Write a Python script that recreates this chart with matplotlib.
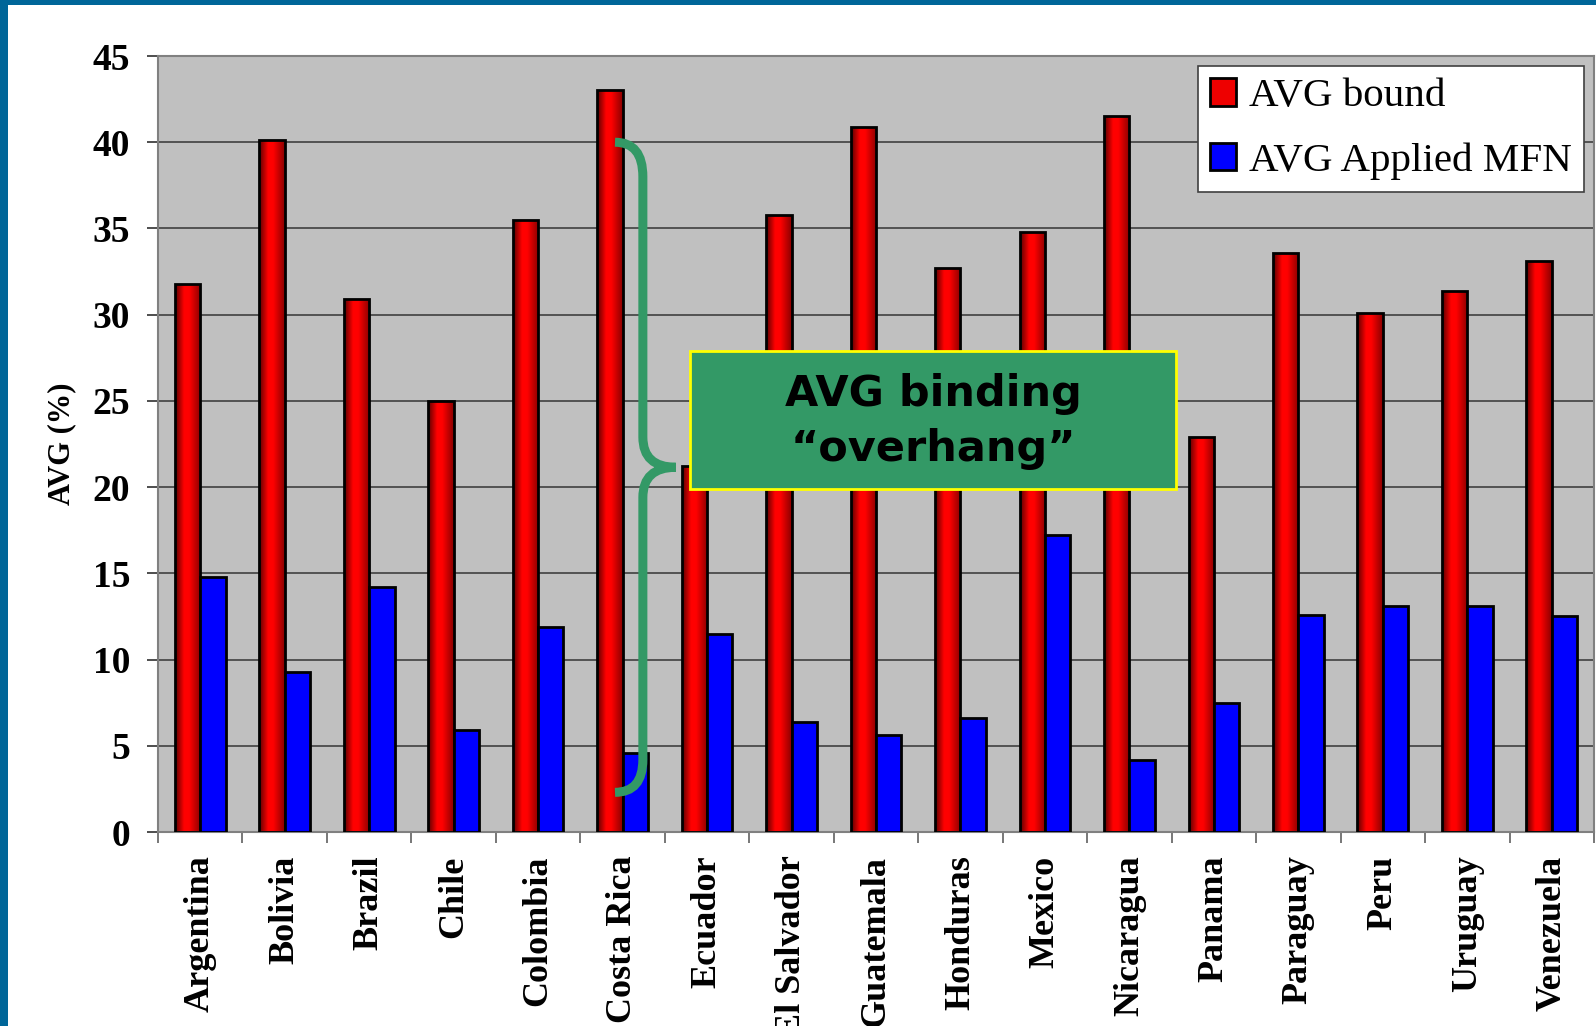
import numpy as np
import matplotlib
matplotlib.use("Agg")
import matplotlib.pyplot as plt
from matplotlib.colors import LinearSegmentedColormap
from matplotlib.patches import Rectangle, Patch
from matplotlib.path import Path
from matplotlib.patches import PathPatch

countries = ["Argentina", "Bolivia", "Brazil", "Chile", "Colombia", "Costa Rica",
             "Ecuador", "El Salvador", "Guatemala", "Honduras", "Mexico",
             "Nicaragua", "Panama", "Paraguay", "Peru", "Uruguay", "Venezuela"]
avg_bound = [31.8, 40.1, 30.9, 25.0, 35.5, 43.0, 21.2, 35.8, 40.9, 32.7,
             34.8, 41.5, 22.9, 33.6, 30.1, 31.4, 33.1]
avg_applied = [14.8, 9.3, 14.2, 5.9, 11.9, 4.6, 11.5, 6.4, 5.6, 6.6,
               17.2, 4.2, 7.5, 12.6, 13.1, 13.1, 12.5]
y_ticks = [0, 5, 10, 15, 20, 25, 30, 35, 40, 45]

serif = "Liberation Serif"
green = "#339966"

fig = plt.figure(figsize=(15.96, 10.26), dpi=100)
fig.patch.set_facecolor("white")

# blue slide frame
fig.add_artist(Rectangle((0, 0), 8 / 1596, 1, transform=fig.transFigure,
                         facecolor="#006699", edgecolor="none"))
fig.add_artist(Rectangle((0, 1 - 5 / 1026), 1, 5 / 1026, transform=fig.transFigure,
                         facecolor="#006699", edgecolor="none"))

ax = fig.add_axes([158 / 1596, 1 - 832 / 1026, (1594 - 158) / 1596, (832 - 56) / 1026])
ax.set_facecolor("#C0C0C0")
ax.set_axisbelow(True)

x = np.arange(len(countries))
w = 0.3
red_bars = ax.bar(x - w / 2, avg_bound, w, facecolor="none", edgecolor="black",
                  linewidth=2, zorder=3)
ax.bar(x + w / 2, avg_applied, w, facecolor="#0000FF", edgecolor="black",
       linewidth=2, zorder=3)

# cylinder-like shading on the red bars
cmap = LinearSegmentedColormap.from_list(
    "redshade", [(0, "#5a0000"), (0.35, "#ff0000"), (0.55, "#ff0000"), (1, "#8a0000")])
grad = np.linspace(0, 1, 64).reshape(1, -1)
for b in red_bars:
    im = ax.imshow(grad, cmap=cmap, aspect="auto", zorder=2.5,
                   extent=[b.get_x(), b.get_x() + b.get_width(), 0, b.get_height()])
    im.set_clip_path(b)

ax.set_xlim(-0.5, len(countries) - 0.5)
ax.set_ylim(0, 45)

ax.set_yticks(y_ticks)
ax.set_yticklabels([str(v) for v in y_ticks], fontfamily=serif, fontweight="bold", fontsize=27)
ax.tick_params(axis="y", length=8, width=1.2, color="#303030", pad=12)

ax.set_xticks(x)
ax.set_xticklabels(countries, rotation=90, fontfamily=serif, fontweight="bold",
                   fontsize=26, va="top")
ax.set_xticks(np.arange(-0.5, len(countries), 1), minor=True)
ax.tick_params(axis="x", which="major", length=0, pad=17)
ax.tick_params(axis="x", which="minor", length=8, width=1.2, color="#606060")

ax.yaxis.grid(True, color="#404040", linewidth=1.2)
for s in ax.spines.values():
    s.set_color("#808080")
    s.set_linewidth(1.5)

ax.set_ylabel("AVG (%)", fontfamily=serif, fontweight="bold", fontsize=22, labelpad=12)

leg = ax.legend(handles=[Patch(facecolor="#ee0000", edgecolor="black", linewidth=2, label="AVG bound"),
                         Patch(facecolor="#0000FF", edgecolor="black", linewidth=2, label="AVG Applied MFN")],
                loc="upper right", bbox_to_anchor=(0.993, 0.987), borderaxespad=0,
                prop={"family": serif, "size": 29.5}, fancybox=False, framealpha=1,
                handlelength=0.65, handleheight=0.65, handletextpad=0.3,
                labelspacing=0.65, borderpad=0.3)
leg.get_frame().set_edgecolor("#404040")
leg.get_frame().set_linewidth(1.2)

# curly brace marking the overhang
verts = [(4.91, 40.0), (5.24, 40.0), (5.24, 38.0),
         (5.24, 22.9), (5.24, 21.15), (5.63, 21.15),
         (5.24, 21.15), (5.24, 19.4),
         (5.24, 4.2), (5.24, 2.3), (4.91, 2.3)]
codes = [Path.MOVETO, Path.CURVE3, Path.CURVE3,
         Path.LINETO, Path.CURVE3, Path.CURVE3,
         Path.CURVE3, Path.CURVE3,
         Path.LINETO, Path.CURVE3, Path.CURVE3]
ax.add_patch(PathPatch(Path(verts, codes), facecolor="none", edgecolor=green,
                       linewidth=6.5, capstyle="butt", zorder=4))

# annotation box
fig.add_artist(Rectangle((690 / 1596, 1 - 489 / 1026), 486 / 1596, 138 / 1026,
                         transform=fig.transFigure, facecolor=green,
                         edgecolor="#FFFF00", linewidth=2, zorder=5))
fig.text(933 / 1596, 1 - 394 / 1026, "AVG binding", ha="center", va="center",
         fontfamily="DejaVu Sans", fontweight="bold", fontsize=31, zorder=6)
fig.text(933 / 1596, 1 - 449 / 1026, "\u201coverhang\u201d", ha="center", va="center",
         fontfamily="DejaVu Sans", fontweight="bold", fontsize=31, zorder=6)

fig.savefig("out.png", dpi=100)
